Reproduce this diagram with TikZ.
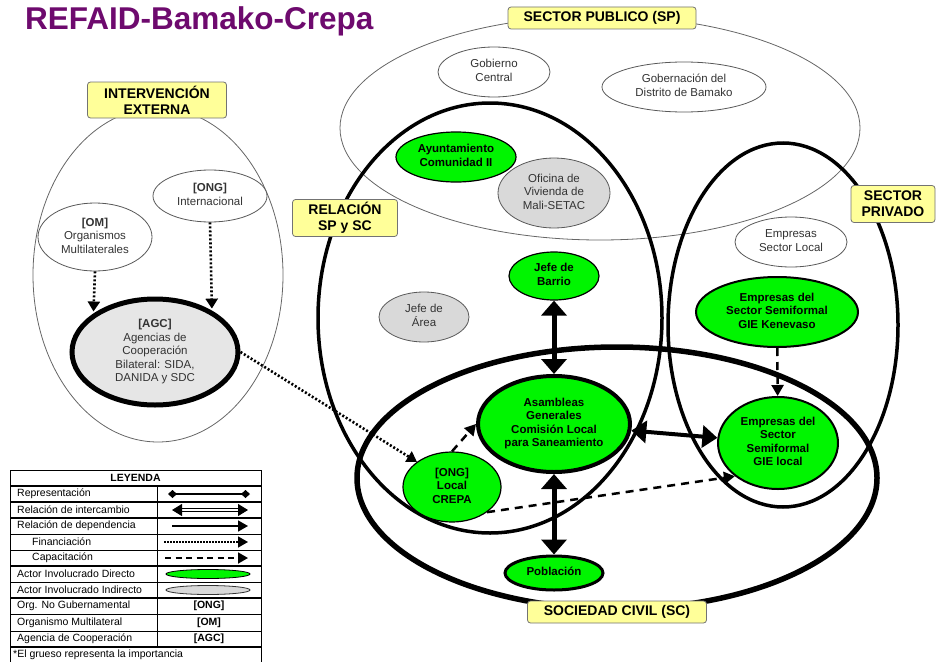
\documentclass[tikz,border=0pt]{standalone}
\usepackage{fontspec}
\setmainfont{Liberation Sans}
\usetikzlibrary{shapes.geometric,arrows.meta}
\definecolor{titlepurple}{RGB}{110,10,110}
\definecolor{labyellow}{RGB}{255,255,153}
\definecolor{actgreen}{RGB}{0,245,0}
\definecolor{actgray}{RGB}{217,217,217}
\definecolor{agcgray}{RGB}{230,230,230}
\newcommand{\ctext}[1]{\vbox to 0pt{\vss\hbox to 0pt{\hss\begin{tabular}{@{}c@{}}#1\end{tabular}\hss}\vss}}
\tikzset{
  actor/.style={ellipse, inner sep=0pt, line width=0.8pt, draw=black!65, fill=white, text=black!80,
    font=\fontsize{11.5}{13.5}\selectfont},
  direct/.style={actor, fill=actgreen, draw=black, text=black, line width=1.2pt,
    font=\bfseries\fontsize{11.5}{13.5}\selectfont},
  indirect/.style={actor, fill=actgray},
  sz/.style 2 args={minimum width=#1pt, minimum height=#2pt},
  region/.style={draw=black, line width=3.5pt},
  thinregion/.style={draw=black!60, line width=0.8pt},
  tag/.style={draw=black!55, fill=labyellow, rounded corners=3pt, line width=0.8pt, inner sep=0pt,
    font=\bfseries\fontsize{14}{16}\selectfont, align=center},
  exch/.style={{Triangle[length=15pt,width=25pt]}-{Triangle[length=15pt,width=25pt]}, line width=5pt},
  exchb/.style={{Triangle[length=15pt,width=22pt]}-{Triangle[length=15pt,width=22pt]}, line width=4pt},
  fin/.style={-{Triangle[length=10pt,width=12pt]}, line width=2.6pt, dash pattern=on 2pt off 2pt},
  train/.style={-{Triangle[length=11pt,width=12pt]}, line width=2.5pt, dash pattern=on 8pt off 6pt},
  legtxt/.style={anchor=west, inner sep=0pt, font=\fontsize{10.5}{12}\selectfont},
  legbold/.style={inner sep=0pt, font=\bfseries\fontsize{10.5}{12}\selectfont},
}
\begin{document}
\begin{tikzpicture}[x=1pt,y=-1pt]
\useasboundingbox (0,0) rectangle (936,661);

% title
\node[anchor=base west, inner sep=0pt, text=titlepurple, font=\bfseries\fontsize{31.5}{34}\selectfont] (title) at (25,30) {REFAID-Bamako-Crepa};

% regions
\draw[thinregion] (600,128) ellipse [x radius=260pt, y radius=112pt];
\draw[thinregion] (158,275) ellipse [x radius=125pt, y radius=167pt];
\draw[region] (490,318) ellipse [x radius=172pt, y radius=215pt];
\draw[region] (783,325) ellipse [x radius=115pt, y radius=182pt];
\draw[region, line width=5.5pt] (617,478) ellipse [x radius=260pt, y radius=131pt];

% actors
\node[actor, sz={114}{68}] (om) at (95,237) {\ctext{\textbf{[OM]}\\Organismos\\Multilaterales}};
\node[actor, sz={114}{52}] (ongi) at (210,196) {\ctext{\textbf{[ONG]}\\Internacional}};
\node[actor, fill=agcgray, draw=black, line width=5pt, sz={166}{106}] (agc) at (155,352) {\ctext{\textbf{[AGC]}\\Agencias de\\Cooperación\\Bilateral: SIDA,\\DANIDA y SDC}};
\node[actor, sz={112}{50}] (gob) at (494,72) {\ctext{Gobierno\\Central}};
\node[actor, sz={164}{50}] (gdb) at (684,87) {\ctext{Gobernación del\\Distrito de Bamako}};
\node[direct, sz={120}{50}] (ayu) at (456,157) {\ctext{Ayuntamiento\\Comunidad II}};
\node[indirect, sz={112}{70}] (ofi) at (554,193) {\ctext{Oficina de\\Vivienda de\\Mali-SETAC}};
\node[direct, sz={90}{48}] (jba) at (554,276) {\ctext{Jefe de\\Barrio}};
\node[indirect, sz={90}{50}] (jar) at (424,317) {\ctext{Jefe de\\Área}};
\node[direct, line width=4pt, sz={152}{96}] (asam) at (554,424) {\ctext{Asambleas\\Generales\\Comisión Local\\para Saneamiento}};
\node[direct, sz={98}{70}] (crepa) at (452,487) {\ctext{[ONG]\\Local\\CREPA}};
\node[direct, line width=3pt, sz={98}{34}] (pob) at (554,573) {\ctext{Población}};
\node[actor, sz={112}{50}] (esl) at (791,242) {\ctext{Empresas\\Sector Local}};
\node[direct, line width=2pt, sz={162}{70}] (ken) at (777,312) {\ctext{Empresas del\\Sector Semiformal\\GIE Kenevaso}};
\node[direct, line width=2pt, sz={120}{92}] (gie) at (778,443) {\ctext{Empresas del\\Sector\\Semiformal\\GIE local}};

% connectors
\draw[exch] (jba) -- (asam);
\draw[exch] (asam) -- (pob);
\draw[exchb] (asam) -- (gie);
\draw[train] (crepa.north) -- (asam.west);
\draw[train] (crepa.south east) -- (gie.south west);
\draw[train] (ken) -- (gie);
\draw[fin] (agc.east) -- (crepa.north west);
\draw[fin, shorten >=2pt] (om.south) -- (agc.148);
\draw[fin, shorten >=2pt] (ongi.south) -- (agc.36);

% tags
\node[tag, minimum width=139pt, minimum height=36pt] (tie) at (157,100) {INTERVENCIÓN\\EXTERNA};
\node[tag, minimum width=188pt, minimum height=22pt] (tsp) at (602,18) {SECTOR PUBLICO (SP)};
\node[tag, minimum width=105pt, minimum height=37pt] (trel) at (345,218) {RELACIÓN\\SP y SC};
\node[tag, minimum width=84pt, minimum height=37pt] (tpriv) at (893,204) {SECTOR\\PRIVADO};
\node[tag, minimum width=179pt, minimum height=22pt] (tsc) at (617,612) {SOCIEDAD CIVIL (SC)};

% legend
\fill[white] (10,470) rectangle (261,665);
\draw[line width=1pt] (10,470) rectangle (261,665);
\foreach \yy in {486,502,518,566,598,647} \draw[line width=1.6pt] (10,\yy) -- (261,\yy);
\foreach \yy in {534,550,582,614,631} \draw[line width=0.8pt] (10,\yy) -- (261,\yy);
\draw[line width=0.8pt] (157,486) -- (157,647);
\node[legbold] (lhead) at (135.5,478) {LEYENDA};
\node[legtxt] (l1) at (17,494) {Representación};
\node[legtxt] (l2) at (17,510) {Relación de intercambio};
\node[legtxt] (l3) at (17,526) {Relación de dependencia};
\node[legtxt] (l4) at (32,542) {Financiación};
\node[legtxt] (l5) at (32,558) {Capacitación};
\node[legtxt] (l6) at (17,574) {Actor Involucrado Directo};
\node[legtxt] (l7) at (17,590) {Actor Involucrado Indirecto};
\node[legtxt] (l8) at (17,606) {Org. No Gubernamental};
\node[legtxt] (l9) at (17,622.5) {Organismo Multilateral};
\node[legtxt] (l10) at (17,639) {Agencia de Cooperación};
\node[legtxt] (l11) at (13,655) {*El grueso representa la importancia};
\node[legbold] (r8) at (209,606) {[ONG]};
\node[legbold] (r9) at (209,622.5) {[OM]};
\node[legbold] (r10) at (209,639) {[AGC]};
\coordinate (a1) at (168,494); \coordinate (b1) at (250,494);
\coordinate (a2) at (172,510); \coordinate (b2) at (248,510);
\coordinate (a3) at (172,526); \coordinate (b3) at (248,526);
\coordinate (a4) at (164,542); \coordinate (b4) at (248,542);
\coordinate (a5) at (165,558); \coordinate (b5) at (248,558);
\draw[{Diamond[length=9pt,width=8pt]}-{Diamond[length=9pt,width=8pt]}, line width=1.2pt] (a1) -- (b1);
\draw[{Triangle[length=10pt,width=12pt]}-{Triangle[length=10pt,width=12pt]}, line width=1pt, double, double distance=1.6pt] (a2) -- (b2);
\draw[-{Triangle[length=10pt,width=11pt]}, line width=1.6pt] (a3) -- (b3);
\draw[-{Triangle[length=10pt,width=11pt]}, line width=1.5pt, dash pattern=on 1.5pt off 1.5pt] (a4) -- (b4);
\draw[-{Triangle[length=10pt,width=11pt]}, line width=1.8pt, dash pattern=on 6pt off 4.5pt] (a5) -- (b5);
\node[ellipse, draw=black, line width=0.8pt, fill=actgreen, minimum width=84pt, minimum height=9pt, inner sep=0pt] (e6) at (208,574) {};
\node[ellipse, draw=black!80, line width=0.8pt, fill=actgray, minimum width=84pt, minimum height=9pt, inner sep=0pt] (e7) at (208,590) {};
\end{tikzpicture}
\end{document}
